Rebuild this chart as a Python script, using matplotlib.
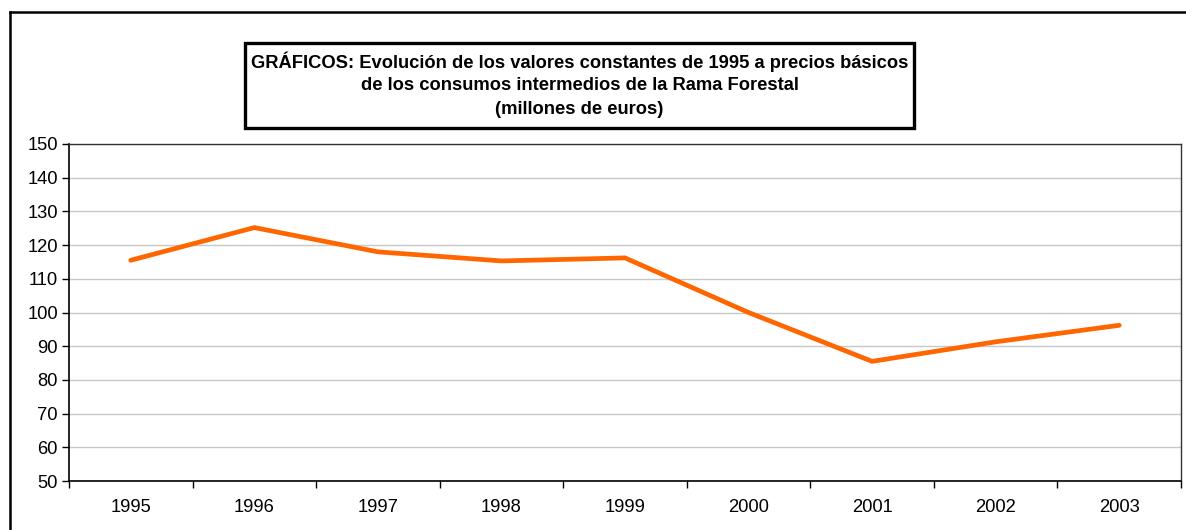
import matplotlib.pyplot as plt
from matplotlib.patches import Rectangle
from matplotlib.lines import Line2D

plt.rcParams['font.family'] = ['Liberation Sans', 'DejaVu Sans']

# serie anual, millones de euros (valores constantes de 1995)
years = ['1995', '1996', '1997', '1998', '1999', '2000', '2001', '2002', '2003']
values = [115.5, 125.2, 118.0, 115.3, 116.2, 100.0, 85.5, 91.3, 96.2]
yticks = [50, 60, 70, 80, 90, 100, 110, 120, 130, 140, 150]

title_lines = [
    'GRÁFICOS: Evolución de los valores constantes de 1995 a precios básicos',
    'de los consumos intermedios de la Rama Forestal',
    '(millones de euros)',
]

fig = plt.figure(figsize=(11.86, 5.30), dpi=100)
W, H = 1186, 530

# marco exterior (solo se ve arriba y a la izquierda)
fig.add_artist(Line2D([10 / W, 10 / W], [0, 1 - 12 / H], color='black', lw=1.8))
fig.add_artist(Line2D([10 / W, 1], [1 - 12 / H, 1 - 12 / H], color='black', lw=1.8))

ax = fig.add_axes([69 / W, 1 - 481 / H, (1181 - 69) / W, (481 - 144) / H])
x = list(range(len(years)))
ax.plot(x, values, color='#FF6600', lw=3.4, solid_capstyle='round', solid_joinstyle='miter', zorder=3)

ax.set_xlim(-0.5, len(years) - 0.5)
ax.set_ylim(50, 150)
ax.set_yticks(yticks)
ax.set_yticklabels([str(v) for v in yticks], fontsize=13.2)
ax.set_xticks(x)
ax.set_xticklabels(years, fontsize=13.2)
ax.tick_params(axis='x', length=0, pad=13)
ax.tick_params(axis='y', length=5, width=1, pad=3)
# marcas del eje x entre categorías
ax.set_xticks([i - 0.5 for i in range(len(years) + 1)], minor=True)
ax.tick_params(axis='x', which='minor', length=5, width=1)

ax.grid(axis='y', color='#c8c8c8', lw=1)
ax.set_axisbelow(True)
for side in ['left', 'bottom']:
    ax.spines[side].set_color('black')
    ax.spines[side].set_linewidth(1.2)
for side in ['top', 'right']:
    ax.spines[side].set_color('#333333')
    ax.spines[side].set_linewidth(1)

# cuadro del título
fig.add_artist(Rectangle((245 / W, 1 - 128 / H), (914 - 245) / W, (128 - 43) / H,
                         fill=False, edgecolor='black', lw=2.4, transform=fig.transFigure))
for i, line in enumerate(title_lines):
    fig.text(579.5 / W, 1 - (62 + 23.5 * i) / H, line, ha='center', va='center',
             fontsize=13.2, fontweight='bold')

fig.savefig('out.png', dpi=100)
